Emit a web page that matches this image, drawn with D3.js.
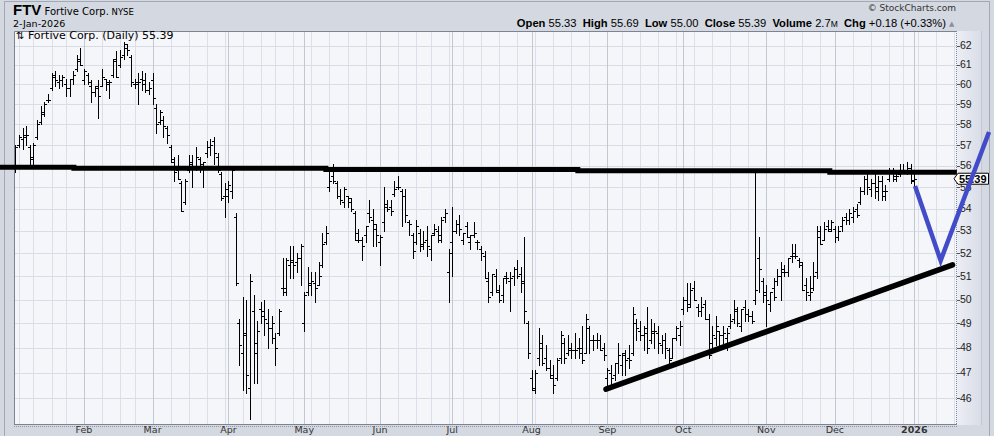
<!DOCTYPE html>
<html><head><meta charset="utf-8">
<script src="https://cdn.jsdelivr.net/npm/d3@7"></script>
<style>html,body{margin:0;padding:0;background:#d3d8e1;overflow:hidden} svg{display:block}</style>
</head><body>
<svg id="c" width="994" height="436"></svg>
<script>
// ---- DATA (trading-day index 0 = 3-Jan-2025 ... 249 = 2-Jan-2026) ----
const opens = [
56.0,57.0,57.3,57.4,56.9,56.3,57.4,58.1,58.6,59.2,
59.8,60.4,60.1,60.2,60.0,59.8,60.3,60.8,61.3,60.2,
60.5,59.9,59.6,59.8,59.9,60.3,60.0,60.5,61.2,61.0,
61.5,61.9,61.4,60.0,60.0,60.3,60.2,59.7,60.2,58.8,
58.1,58.2,57.8,56.9,56.3,55.8,55.2,54.3,55.8,56.2,
56.0,56.3,55.9,56.6,56.9,57.2,56.4,55.6,54.6,54.6,
54.8,53.6,49.0,47.8,48.6,46.4,49.5,48.2,49.6,49.5,
49.0,48.8,48.4,48.6,50.5,50.5,51.5,51.6,51.6,51.8,
49.0,50.3,50.6,50.7,50.6,51.5,52.5,55.0,55.5,55.2,
54.6,54.3,54.6,54.3,53.8,52.9,52.6,52.8,53.8,53.5,
53.1,52.5,53.4,54.1,54.1,54.7,55.0,54.8,54.6,53.4,
52.8,52.5,52.9,52.4,52.6,52.2,52.9,53.0,52.8,53.6,
51.2,52.5,53.0,53.3,52.6,53.2,52.5,52.8,52.5,52.2,
51.9,50.8,50.3,51.0,50.3,50.2,51.0,50.8,51.0,51.3,
51.1,50.8,49.0,46.8,46.3,47.6,48.0,47.6,47.2,46.9,
46.8,47.6,48.2,47.8,48.0,47.9,48.0,48.0,47.8,48.8,
48.3,48.3,48.3,48.0,46.8,47.0,46.9,47.4,47.3,47.7,
47.6,47.8,49.0,48.7,48.5,48.8,48.3,48.6,48.6,48.1,
48.3,47.9,47.6,48.4,48.5,49.6,50.0,49.8,50.5,49.7,
49.5,49.8,49.2,48.2,48.4,48.7,48.5,48.4,48.9,49.2,
49.5,48.9,49.7,49.4,49.3,50.0,51.8,50.8,50.2,49.8,
50.5,50.8,51.0,51.3,51.2,51.9,52.0,51.7,51.5,50.6,
50.2,50.5,51.2,53.0,52.6,53.2,53.1,53.1,52.7,53.2,
53.6,53.5,53.6,54.0,54.3,54.8,55.4,54.9,55.2,54.8,
55.3,54.6,55.4,55.7,55.4,55.6,55.8,55.8,55.9,55.33];
const highs = [
57.0,57.5,57.8,57.9,57.0,57.1,58.2,58.9,59.1,59.5,
60.6,60.7,60.5,60.5,60.3,60.3,60.7,61.5,61.9,60.8,
60.6,60.2,59.9,60.2,60.8,60.3,60.2,61.3,61.7,61.8,
62.2,62.1,61.5,60.3,60.6,60.7,60.6,60.1,60.6,59.0,
58.7,58.4,57.9,57.0,56.4,56.5,55.3,55.4,56.5,56.5,
56.9,56.4,56.2,57.2,57.3,57.4,56.6,55.7,55.2,55.3,
55.8,53.8,49.2,50.1,50.0,51.1,50.2,49.1,49.9,50.0,
49.6,49.3,48.6,49.6,51.8,51.8,52.3,52.3,52.0,52.4,
50.3,51.4,51.2,51.2,51.6,52.9,53.2,55.8,56.1,55.3,
54.9,55.0,54.6,54.5,53.9,53.1,52.7,53.2,54.4,54.0,
53.3,52.8,55.0,54.4,54.4,55.3,55.5,54.9,54.9,53.5,
52.9,53.5,53.1,53.0,53.2,52.8,53.3,53.2,53.6,54.0,
52.2,54.1,53.5,53.7,52.9,53.4,52.8,53.4,52.6,52.3,
52.1,51.2,51.1,51.3,50.6,50.9,51.2,51.2,51.4,51.7,
51.4,52.7,49.1,47.1,47.1,48.8,48.5,48.1,47.5,47.3,
47.6,48.7,48.4,48.5,48.2,48.6,48.4,48.9,49.4,48.9,
48.5,48.6,48.5,48.2,47.2,47.3,47.4,48.2,47.8,47.9,
48.1,49.7,49.2,49.1,48.9,49.7,49.2,49.0,48.9,48.5,
48.6,48.0,48.4,48.9,49.1,50.1,50.7,50.7,50.8,49.8,
50.1,50.0,49.4,48.9,49.3,48.7,48.9,48.8,49.4,50.0,
49.7,49.6,50.0,49.6,49.5,55.7,52.7,50.9,50.6,50.3,
50.9,51.3,51.6,51.5,51.8,52.4,52.4,51.8,51.6,50.9,
51.0,51.6,53.2,53.2,53.4,53.5,53.5,53.2,53.2,53.6,
53.8,54.0,54.1,54.2,55.0,55.5,55.6,55.4,55.6,55.5,
55.5,55.1,55.9,55.9,55.7,56.1,56.1,56.2,56.1,55.69];
const lows = [
55.7,56.9,56.8,57.0,56.0,56.0,57.3,58.0,58.4,59.1,
59.7,59.9,59.8,59.9,59.4,59.4,60.0,60.7,61.0,60.0,
60.0,59.1,59.4,58.3,59.9,59.7,59.3,60.4,60.4,60.9,
61.3,61.5,59.9,59.8,59.0,59.7,59.6,59.5,59.0,57.6,
58.0,57.4,57.1,56.2,55.3,55.4,53.9,54.2,55.7,55.0,
55.8,55.7,55.0,56.4,56.5,56.1,55.7,54.4,53.6,54.3,
54.5,50.6,47.3,46.3,46.2,45.2,46.6,46.6,49.0,48.5,
48.0,48.2,47.3,48.5,50.2,50.2,50.9,50.9,51.2,50.6,
48.7,50.2,50.2,49.9,50.6,51.4,52.4,54.8,55.2,54.5,
54.2,54.1,54.1,53.9,52.6,52.5,51.7,52.5,53.4,52.3,
52.3,51.5,53.0,53.9,53.7,54.6,54.9,53.2,53.4,52.8,
51.8,52.4,52.1,52.2,51.9,51.7,52.8,52.5,52.5,53.4,
49.9,51.0,52.9,52.8,52.4,52.7,52.2,52.7,52.2,51.7,
50.9,49.9,50.2,50.3,49.9,49.9,50.7,49.5,50.6,50.9,
50.3,49.0,47.6,46.3,46.2,47.3,47.3,47.1,46.8,46.2,
46.7,47.4,47.4,47.7,47.6,47.6,47.6,47.4,47.8,47.8,
47.9,48.0,47.9,47.5,46.4,46.5,46.7,47.0,46.9,46.9,
47.2,47.7,48.3,48.3,47.9,47.8,48.2,48.0,47.8,47.8,
47.6,47.4,47.6,48.3,48.1,49.4,49.5,49.7,50.0,49.3,
49.3,49.2,47.6,47.9,48.1,47.9,48.2,47.9,48.8,49.0,
48.9,48.7,49.1,49.1,49.0,49.8,50.3,49.9,48.9,49.5,
50.0,50.6,50.0,51.0,51.0,51.6,51.8,51.4,50.4,50.0,
50.0,50.4,50.9,52.4,52.6,53.0,53.0,52.5,52.6,53.0,
53.3,53.3,53.4,53.6,54.2,54.7,54.7,54.6,54.5,54.4,
54.4,54.4,55.3,55.3,55.3,55.5,55.7,55.6,55.2,55.00];
const closes = [
56.9,57.4,57.5,57.5,56.4,57.0,58.0,58.5,59.0,59.2,
60.5,60.2,60.2,60.4,59.8,60.3,60.5,61.2,61.0,60.7,
60.1,59.6,59.9,59.4,60.4,60.1,60.1,61.3,60.4,61.4,
62.1,61.8,60.1,60.1,60.1,60.0,59.7,59.8,59.3,58.0,
58.6,57.9,57.5,56.2,55.7,55.4,53.9,55.3,56.1,56.0,
56.4,56.1,56.2,56.9,57.0,56.6,55.8,54.5,54.9,55.1,
55.8,50.7,48.1,48.5,46.9,50.8,47.8,48.7,49.3,49.2,
48.8,49.0,48.0,49.5,50.3,51.7,51.7,51.5,51.8,52.3,
50.2,50.7,50.8,50.5,51.0,52.4,52.9,55.3,55.3,54.6,
54.4,54.9,54.5,54.0,52.6,52.6,52.3,53.2,53.6,53.3,
52.8,52.7,54.2,54.0,53.9,54.9,55.0,54.6,53.7,53.3,
52.1,53.2,52.3,52.5,52.3,52.8,53.1,52.6,53.5,53.8,
52.0,53.0,53.3,53.1,52.9,52.7,52.8,52.9,52.5,52.0,
50.9,50.1,51.1,50.4,50.0,50.9,50.9,50.9,51.3,51.0,
50.7,49.5,47.8,46.4,47.0,48.2,47.4,47.2,46.8,46.5,
47.5,48.5,47.6,47.9,47.9,47.9,47.8,47.5,49.2,48.3,
48.3,48.3,47.9,47.7,47.1,46.8,47.4,47.7,47.8,47.5,
47.5,49.4,48.8,48.5,48.6,48.0,48.7,48.7,48.2,48.3,
48.0,47.5,48.4,48.8,48.9,50.0,49.7,50.4,50.0,49.5,
49.7,49.2,47.7,48.5,48.9,48.5,48.6,48.6,49.1,49.6,
49.0,49.6,49.4,49.3,49.1,50.4,51.3,50.3,50.0,50.3,
50.1,51.0,51.2,51.2,51.8,51.9,51.9,51.6,50.4,50.3,
50.3,51.0,52.7,52.4,53.1,53.0,53.4,52.7,53.0,53.5,
53.5,53.8,53.9,53.7,54.8,55.4,55.0,55.2,55.0,55.3,
54.8,54.8,55.7,55.5,55.5,55.8,55.8,55.9,55.3,55.39];

const monthLabels = ["Feb","Mar","Apr","May","Jun","Jul","Aug","Sep","Oct","Nov","Dec","2026"];
const monthIdx    = [19,38,59,80,101,121,143,164,185,208,227,249];
const weekIdx = [1,5,10,14,19,24,29,33,38,43,48,53,58,63,68,72,77,82,87,92,97,101,106,111,115,120,124,129,134,139,144,149,154,159,164,168,173,178,183,188,193,198,203,208,213,218,223,227,232,237,242,246,250,255,260];
const yTicks = [46,47,48,49,50,51,52,53,54,55,56,57,58,59,60,61,62];

// annotation lines (index, price)
const resistIdx   = [-4.3,16.2,16.2,86.0,86.0,155.8,155.8,225.6,225.6,260.8];
const resistPrice = [55.93,55.93,55.88,55.88,55.82,55.82,55.77,55.77,55.70,55.70];
const supportIdx   = [163.6,259.6];
const supportPrice = [46.34,51.49];
const vIdx   = [249.2,256.3,269.7];
const vPrice = [55.05,51.68,57.63];

const lastClose = 55.39;

// ---- DRAW ----
const W=994,H=436, L=14,T=31,R=957,B=424;
const svg = d3.select('#c');
const x = d3.scaleLinear().domain([0,249]).range([15.4,914.3]);
const y = d3.scaleLog().domain([46,62]).range([397.9,45.7]);
const px = v => Math.round(x(v))+0.5;
const py = v => Math.round(y(v))+0.5;

const defs = svg.append('defs');
defs.append('clipPath').attr('id','plotclip').append('rect').attr('x',L).attr('y',T).attr('width',R-L).attr('height',B-T);
const g1 = defs.append('linearGradient').attr('id','axg').attr('x1',0).attr('x2',1).attr('y1',0).attr('y2',0);
g1.append('stop').attr('offset','0%').attr('stop-color','#eceef5');
g1.append('stop').attr('offset','100%').attr('stop-color','#d9dde7');

svg.append('rect').attr('width',W).attr('height',H).attr('fill','#d3d8e1');
svg.append('rect').attr('x',4.5).attr('y',1.5).attr('width',985).attr('height',460).attr('fill','none').attr('stroke','#a3a9b4');

// right axis panel
svg.append('rect').attr('x',R).attr('y',T).attr('width',24).attr('height',B-T+1).attr('fill','url(#axg)');
svg.append('line').attr('x1',R+24.5).attr('x2',R+24.5).attr('y1',T).attr('y2',B+1).attr('stroke','#c2c7d1');

// plot bg
svg.append('rect').attr('x',L).attr('y',T).attr('width',R-L).attr('height',B-T).attr('fill','#f5f6fa');

const grid = svg.append('g').attr('clip-path','url(#plotclip)');
grid.selectAll('.hg').data(yTicks).join('line')
  .attr('x1',L).attr('x2',R).attr('y1',d=>py(d)).attr('y2',d=>py(d))
  .attr('stroke','#d9dce5').attr('stroke-width',1);
grid.selectAll('.wg').data(weekIdx.filter(i=>!monthIdx.includes(i))).join('line')
  .attr('x1',d=>px(d)).attr('x2',d=>px(d)).attr('y1',T).attr('y2',B)
  .attr('stroke','#dcdfe7').attr('stroke-width',1);
grid.selectAll('.mg').data(monthIdx).join('line')
  .attr('x1',d=>px(d)).attr('x2',d=>px(d)).attr('y1',T).attr('y2',B)
  .attr('stroke','#c3c7d1').attr('stroke-width',1);

// frame
svg.append('path').attr('d',`M${L+0.5},${B}V${T+0.5}H${R}`).attr('fill','none').attr('stroke','#7d8391');
svg.append('line').attr('x1',L).attr('x2',R).attr('y1',B+0.5).attr('y2',B+0.5).attr('stroke','#7d8391');
svg.append('line').attr('x1',L).attr('x2',R).attr('y1',B+2.5).attr('y2',B+2.5).attr('stroke','#9197a3').attr('stroke-dasharray','1,1');
svg.append('line').attr('x1',R-0.5).attr('x2',R-0.5).attr('y1',T).attr('y2',B).attr('stroke','#80869a').attr('stroke-dasharray','1,1');

// bars
const idx = d3.range(closes.length);
const bars = svg.append('g').attr('clip-path','url(#plotclip)').attr('stroke','#000').attr('stroke-width',1).attr('shape-rendering','crispEdges');
const path = idx.map(i=>{
  const cx=px(i);
  return `M${cx},${Math.round(y(highs[i]))}V${Math.round(y(lows[i]))+1}`+
         `M${cx-2.5},${py(opens[i])}H${cx}`+
         `M${cx},${py(closes[i])}H${cx+2.5}`;
}).join('');
bars.append('path').attr('d',path).attr('fill','none');

// resistance line
const lineGen = d3.line().x(d=>x(d[0])).y(d=>y(d[1]));
svg.append('path').attr('d',lineGen(resistIdx.map((d,i)=>[d,resistPrice[i]])))
  .attr('fill','none').attr('stroke','#000').attr('stroke-width',5);
// support line
svg.append('path').attr('d',lineGen(supportIdx.map((d,i)=>[d,supportPrice[i]])))
  .attr('fill','none').attr('stroke','#000').attr('stroke-width',5.5).attr('stroke-linecap','round');

// y axis ticks/labels (the 55 label sits under the price tag, as in the original)
const ax = svg.append('g');
ax.selectAll('line').data(yTicks).join('line')
  .attr('x1',R).attr('x2',R+3).attr('y1',d=>py(d)).attr('y2',d=>py(d)).attr('stroke','#555');
ax.selectAll('text').data(yTicks).join('text')
  .attr('x',R+3).attr('y',d=>y(d)+3.6).text(d=>d)
  .attr('font-family','Liberation Sans, Arial, sans-serif').attr('font-size',10.5).attr('fill','#222');

// price tag
const ty = y(lastClose);
svg.append('path').attr('d',`M${R-3},${ty}L${R+1},${ty-5.5}H${R+31.5}V${ty+5.5}H${R+1}Z`)
  .attr('fill','#fff').attr('stroke','#000').attr('stroke-width',1);
svg.append('text').attr('x',R+2).attr('y',ty+4).text(lastClose.toFixed(2))
  .attr('font-family','Liberation Sans, Arial, sans-serif').attr('font-size',11).attr('font-weight','bold').attr('fill','#000');

// blue V
svg.append('path').attr('d',lineGen(vIdx.map((d,i)=>[d,vPrice[i]])))
  .attr('fill','none').attr('stroke','#434cc8').attr('stroke-width',4.5).attr('stroke-linejoin','miter');

// x labels
svg.selectAll('.ml').data(monthLabels).join('text')
  .attr('x',(d,i)=>x(monthIdx[i])).attr('y',433).attr('text-anchor','middle').text(d=>d)
  .attr('font-family','DejaVu Sans, Verdana, sans-serif').attr('font-size',9.5)
  .attr('font-weight',d=>d==='2026'?'bold':'normal').attr('fill','#333');

// header
const hdr = svg.append('text').attr('x',13).attr('y',15).attr('fill','#000');
hdr.append('tspan').text('FTV').attr('font-family','Liberation Sans, Arial, sans-serif').attr('font-weight','bold').attr('font-size',15);
hdr.append('tspan').text(' Fortive Corp.').attr('font-family','DejaVu Sans, Verdana, sans-serif').attr('font-size',10);
hdr.append('tspan').text(' NYSE').attr('font-family','DejaVu Sans, Verdana, sans-serif').attr('font-size',8.5);
svg.append('text').attr('x',13).attr('y',26.5).text('2-Jan-2026')
  .attr('font-family','DejaVu Sans, Verdana, sans-serif').attr('font-size',9.5).attr('fill','#000');
const leg = svg.append('text').attr('x',16).attr('y',38.5).attr('fill','#000')
  .attr('font-family','DejaVu Sans, Verdana, sans-serif').attr('font-size',11);
leg.append('tspan').text('⇅').attr('font-size',10);
leg.append('tspan').text(' Fortive Corp. (Daily) 55.39');

svg.append('text').attr('x',956).attr('y',11).attr('text-anchor','end').text('© StockCharts.com')
  .attr('font-family','DejaVu Sans, Verdana, sans-serif').attr('font-size',9).attr('fill','#333');
const ohlc = svg.append('text').attr('x',946).attr('y',27).attr('text-anchor','end').attr('fill','#000')
  .attr('font-family','Liberation Sans, Arial, sans-serif').attr('font-size',11.2);
const parts = [['Open',' 55.33  '],['High',' 55.69  '],['Low',' 55.00  '],['Close',' 55.39  '],['Volume',' 2.7'],null,['Chg',' +0.18 (+0.33%)']];
parts.forEach(p=>{
  if(!p){ ohlc.append('tspan').text('M').attr('font-size',8.5); ohlc.append('tspan').text('  '); return; }
  ohlc.append('tspan').text(p[0]).attr('font-weight','bold');
  ohlc.append('tspan').text(p[1]);
});
ohlc.attr('xml:space','preserve');
svg.append('text').attr('x',949).attr('y',26).text('▲').attr('font-size',7).attr('fill','#8a909a')
  .attr('font-family','DejaVu Sans, sans-serif');
</script>
</body></html>
